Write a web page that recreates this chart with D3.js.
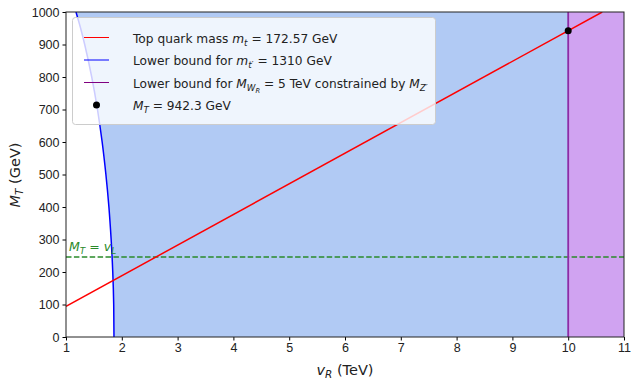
<!DOCTYPE html>
<html>
<head>
<meta charset="utf-8">
<script src="https://cdn.jsdelivr.net/npm/d3@7"></script>
<style>
  body { margin: 0; background: #fff; }
  svg { font-family: "DejaVu Sans", sans-serif; }
  .tick text { font-size: 12.5px; fill: #222; }
</style>
</head>
<body>
<svg id="chart" width="638" height="386"></svg>
<script>
// values
const xTicks = [1, 2, 3, 4, 5, 6, 7, 8, 9, 10, 11]
const yTicks = [0, 100, 200, 300, 400, 500, 600, 700, 800, 900, 1000]

// top quark line: (vR, MT)
const topLineVR = [1, 10.61]
const topLineMT = [94.2, 1000]

// blue lower bound curve: MT -> vR
const boundMT = [0, 100, 200, 300, 400, 500, 600, 700, 800, 900, 950, 1000]
const boundVR = [1.860, 1.855, 1.838, 1.809, 1.769, 1.715, 1.648, 1.564, 1.461, 1.335, 1.262, 1.179]

const wrBoundVR = 10
const vL = 246
const pointVR = 10
const pointMT = 942.3

const margin = { left: 66, right: 14, top: 12, bottom: 49 }
const width = 638, height = 386

const svg = d3.select('#chart')

const x = d3.scaleLinear().domain([1, 11]).range([margin.left, width - margin.right])
const y = d3.scaleLinear().domain([0, 1000]).range([height - margin.bottom, margin.top])

// clip to plot area
svg.append('clipPath').attr('id', 'clip')
    .append('rect')
    .attr('x', x(1)).attr('y', y(1000))
    .attr('width', x(11) - x(1)).attr('height', y(0) - y(1000))

const plot = svg.append('g').attr('clip-path', 'url(#clip)')

const bound = boundMT.map((m, i) => ({ m, v: boundVR[i] }))

// blue allowed region between curve and vR = 10
plot.append('path')
    .datum(bound)
    .attr('d', d3.area().x0(d => x(d.v)).x1(x(wrBoundVR)).y(d => y(d.m)).curve(d3.curveMonotoneY))
    .attr('fill', '#b1caf4')

// purple region
plot.append('rect')
    .attr('x', x(wrBoundVR)).attr('y', y(1000))
    .attr('width', x(11) - x(wrBoundVR)).attr('height', y(0) - y(1000))
    .attr('fill', '#d0a3f1')

// blue curve
plot.append('path')
    .datum(bound)
    .attr('d', d3.line().x(d => x(d.v)).y(d => y(d.m)).curve(d3.curveMonotoneY))
    .attr('fill', 'none')
    .attr('stroke', '#0000ff')
    .attr('stroke-width', 1.5)

// green dashed line
plot.append('line')
    .attr('x1', x(1)).attr('x2', x(11))
    .attr('y1', y(vL)).attr('y2', y(vL))
    .attr('stroke', '#2a8a2a')
    .attr('stroke-width', 1.5)
    .attr('stroke-dasharray', '5.5,2.4')

// red line
plot.append('line')
    .attr('x1', x(topLineVR[0])).attr('y1', y(topLineMT[0]))
    .attr('x2', x(topLineVR[1])).attr('y2', y(topLineMT[1]))
    .attr('stroke', '#ff0000')
    .attr('stroke-width', 1.5)

// purple vertical line
plot.append('line')
    .attr('x1', x(wrBoundVR)).attr('x2', x(wrBoundVR))
    .attr('y1', y(0)).attr('y2', y(1000))
    .attr('stroke', '#8e2ca6')
    .attr('stroke-width', 1.8)

// black point
plot.append('circle')
    .attr('cx', x(pointVR)).attr('cy', y(pointMT))
    .attr('r', 3.5)
    .attr('fill', '#000')

// math-ish text helper: segments of {t, it, sub}
const mathText = (sel, parts) => {
    parts.forEach(p => {
        const ts = sel.append('tspan').text(p.t)
        if (p.it) ts.attr('font-style', 'italic')
        if (p.sub) {
            ts.attr('font-size', p.size || '0.72em').attr('dy', p.dy || 3)
        }
        if (p.back) ts.attr('dy', p.back)
    })
    return sel
}

// vL label
mathText(svg.append('text')
    .attr('x', x(1) + 3).attr('y', y(vL) - 6)
    .attr('fill', '#2a8a2a').attr('font-size', 12.5),
    [{ t: 'M', it: true }, { t: 'T', it: true, sub: true }, { t: ' = ', back: -3 }, { t: 'v', it: true }, { t: 'L', it: true, sub: true }])

// axes
svg.append('g')
    .attr('transform', `translate(0,${y(0)})`)
    .call(d3.axisBottom(x).tickValues(xTicks).tickFormat(d3.format('d')).tickSize(3.5).tickPadding(3))

svg.append('g')
    .attr('transform', `translate(${x(1)},0)`)
    .call(d3.axisLeft(y).tickValues(yTicks).tickFormat(d3.format('d')).tickSize(3.5).tickPadding(3))

svg.selectAll('.domain').remove()

// frame
svg.append('rect')
    .attr('x', x(1)).attr('y', y(1000))
    .attr('width', x(11) - x(1)).attr('height', y(0) - y(1000))
    .attr('fill', 'none').attr('stroke', '#222').attr('stroke-width', 1)

// axis labels
mathText(svg.append('text')
    .attr('x', 345).attr('y', 375)
    .attr('text-anchor', 'middle').attr('font-size', 14.5).attr('fill', '#222'),
    [{ t: 'v', it: true }, { t: 'R', it: true, sub: true }, { t: ' (TeV)', back: -3 }])

mathText(svg.append('text')
    .attr('transform', 'translate(20,175) rotate(-90)')
    .attr('text-anchor', 'middle').attr('font-size', 14.5).attr('fill', '#222'),
    [{ t: 'M', it: true }, { t: 'T', it: true, sub: true }, { t: ' (GeV)', back: -3 }])

// legend
const lg = svg.append('g')
lg.append('rect')
    .attr('x', 72.5).attr('y', 17.5)
    .attr('width', 363).attr('height', 107)
    .attr('rx', 3)
    .attr('fill', '#ffffff').attr('fill-opacity', 0.8)
    .attr('stroke', '#cccccc')

const legendItems = [
    { kind: 'line', color: '#ff0000', parts: [{ t: 'Top quark mass ' }, { t: 'm', it: true }, { t: 't', it: true, sub: true }, { t: ' = 172.57 GeV', back: -3 }] },
    { kind: 'line', color: '#0000ff', parts: [{ t: 'Lower bound for ' }, { t: 'm', it: true }, { t: 't′', it: true, sub: true }, { t: ' = 1310 GeV', back: -3 }] },
    { kind: 'line', color: '#800080', parts: [{ t: 'Lower bound for ' }, { t: 'M', it: true }, { t: 'W', it: true, sub: true }, { t: 'R', it: true, sub: true, size: '0.55em', dy: 2 }, { t: ' = 5 TeV constrained by ', back: -5 }, { t: 'M', it: true }, { t: 'Z′', it: true, sub: true }] },
    { kind: 'dot', color: '#000', parts: [{ t: 'M', it: true }, { t: 'T', it: true, sub: true }, { t: ' = 942.3 GeV', back: -3 }] }
]

legendItems.forEach((d, i) => {
    const yy = 37.5 + i * 22.5
    if (d.kind === 'line') {
        lg.append('line').attr('x1', 84).attr('x2', 109).attr('y1', yy).attr('y2', yy)
            .attr('stroke', d.color).attr('stroke-width', 1)
    } else {
        lg.append('circle').attr('cx', 96.5).attr('cy', yy).attr('r', 3.5).attr('fill', d.color)
    }
    mathText(lg.append('text')
        .attr('x', 133).attr('y', yy + 5)
        .attr('font-size', 12.2).attr('fill', '#222'), d.parts)
})
</script>
</body>
</html>
